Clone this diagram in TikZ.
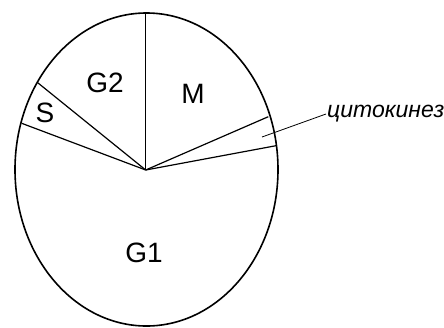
\documentclass[tikz,border=0pt]{standalone}
\usepackage{fontspec}
\setmainfont{Liberation Sans}
\usepackage{tikz}

\begin{document}
\begin{tikzpicture}[x=1pt, y=-1pt,
        phase/.style={font=\fontsize{28}{30}\selectfont},
        sector/.style={line width=1.2pt}]
        \useasboundingbox (0, 0) rectangle (444, 327);

        % Note (146.5, 169.5) is the centre of the cell cycle
        \draw[line width=1.6pt] (146.5, 169.5) ellipse (131.5 and 156.5);
        \coordinate (c) at (145.7, 170);

        % Ends of the sector lines on the ellipse
        \coordinate (top) at (145.7, 13);
        \coordinate (sg) at (37.7, 82.7);
        \coordinate (gs) at (21.7, 123.3);
        \coordinate (mc) at (268.3, 116.7);
        \coordinate (cg) at (276, 145.7);

        \draw[sector] (c) -- (top);
        \draw[sector] (c) -- (sg);
        \draw[sector] (c) -- (gs);
        \draw[sector] (c) -- (mc);
        \draw[sector] (c) -- (cg);

        % Phase labels
        \node[phase] (g2) at (105, 83) {G2};
        \node[phase] (s) at (45, 113) {S};
        \node[phase] (m) at (193, 94) {M};
        \node[phase] (g1) at (144, 253) {G1};

        % Cytokinesis label on right
        \node[font=\fontsize{23}{25}\selectfont\itshape, anchor=west, inner sep=1pt] (cyt) at (326, 114) {цитокинез};
        \coordinate (cp) at (262, 137);
        \draw[line width=0.8pt] (cp) -- (cyt.west);
\end{tikzpicture}
\end{document}
